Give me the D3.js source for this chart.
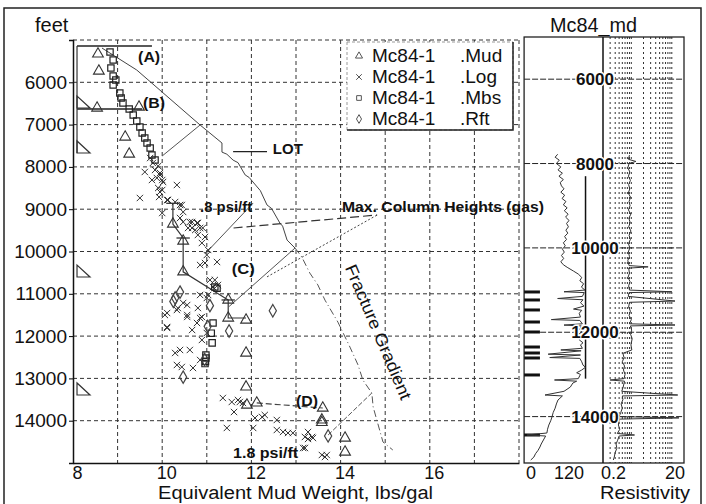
<!DOCTYPE html>
<html>
<head>
<meta charset="utf-8">
<script src="https://cdn.jsdelivr.net/npm/d3@7"></script>
<style>
  body { margin: 0; background: #fff; }
  text { font-family: "Liberation Sans", Arial, sans-serif; fill: #111; }
</style>
</head>
<body>
<script>
'use strict';

// ---- data ----
const xTickLabels = [8, 10, 12, 14, 16];
const xGrid = [9, 10, 11, 12, 13, 14, 15, 16, 17, 18];
const depthTicks = [6000, 7000, 8000, 9000, 10000, 11000, 12000, 13000, 14000];
const depthGrid = [5000, 6000, 7000, 8000, 9000, 10000, 11000, 12000, 13000, 14000];
const trackDepths = [6000, 8000, 10000, 12000, 14000];
const grTickLabels = [0, 120];
const resTickLabels = [0.2, 20];
const resGrid = [0.3, 0.4, 0.5, 0.6, 0.7, 0.8, 0.9, 1, 2, 3, 4, 5, 6, 7, 8, 9, 10];

// [mud weight, depth]
const mudPoints = [[8.56,5330],[8.58,5733],[8.54,6607],[9.48,6584],[9.17,7293],[9.26,7695],
  [10.24,9350],[10.47,9752],[10.47,10480],[11.48,11146],[11.48,11572],[11.88,11620],
  [11.88,12400],[11.88,13200],[11.9,13630],[12.12,13580],[13.6,13700],[13.58,13980],
  [13.58,14040],[14.1,14410],[14.1,14740]];
const logPoints = [[9.61,8120],[9.73,7790],[9.79,7908],[9.84,8073],[9.91,7979],[9.95,8191],
  [10.0,8310],[9.88,8262],[9.77,8310],[9.95,8144],[10.02,8357],[9.91,8499],[10.0,8546],
  [9.93,8711],[9.5,8735],[10.11,8782],[10.29,8830],[10.44,8901],[10.0,9090],[10.4,9208],
  [10.47,9302],[10.67,9302],[10.8,9326],[10.74,9492],[10.91,9444],[10.58,9444],[10.33,8428],
  [9.95,8593],[10.13,8782],[10.4,8901],[10.47,9066],[10.62,9302],[10.78,9326],[10.67,9444],
  [10.85,9444],[10.8,9610],[10.96,9657],[10.89,9799],[11.03,9964],[11.0,10083],[11.23,10248],
  [10.85,10319],[10.96,10272],[11.07,10674],[11.18,10674],[11.25,10792],[11.14,10839],
  [10.85,11028],[11.0,11099],[11.03,11028],[10.47,11217],[10.35,11336],[10.11,11454],
  [10.8,11336],[10.89,11548],[10.56,11548],[10.11,11785],[10.06,11501],[10.11,11808],
  [10.33,11383],[10.56,11265],[10.67,11856],[10.29,12399],[10.4,12328],[10.62,12328],
  [10.33,12683],[10.44,12730],[10.69,12754],[10.85,12565],[10.56,11501],[10.85,11572],
  [10.89,12092],[11.0,11927],[10.78,11690],[11.36,13463],[11.56,13558],[11.7,13510],
  [11.74,13558],[11.81,13581],[11.61,13794],[11.45,14172],[12.04,14172],[12.08,13936],
  [12.24,13912],[12.3,13865],[12.57,13983],[12.57,14220],[12.71,14267],[12.82,14291],
  [12.93,14291],[13.2,14385],[13.27,14267],[13.36,14385],[13.38,14409],[13.16,14645],
  [13.2,14645],[13.58,14811],[13.65,14858],[13.69,14811],[13.27,14432]];
const mbsPoints = [[8.83,5284],[8.9,5473],[8.85,5662],[8.9,5851],[8.96,5946],[8.9,6064],
  [9.05,6253],[9.08,6371],[9.12,6489],[9.26,6631],[9.35,6773],[9.43,6915],[9.5,7057],
  [9.55,7199],[9.61,7317],[9.66,7435],[9.73,7553],[9.77,7719],[9.84,7837],[11.18,10840],
  [11.23,10870],[11.14,11690],[11.12,12160],[11.1,11930],[10.98,12450],[10.98,12520],
  [10.97,12600],[10.96,12650]];
const rftPoints = [[10.4,10960],[10.29,11100],[10.25,11180],[12.48,11400],[11.5,11880],
  [11.07,11280],[10.47,12970],[13.72,14360],[10.95,12550],[11.02,11770]];

// lines on the mud-weight plot
const fracSolid = [[8.65,5190],[9.43,5710],[10.85,7010],[11.34,7435],[11.34,7650],[11.45,7700],
  [11.59,7840],[11.7,7900],[11.86,8190],[11.95,8250],[12.13,8475],[12.2,8560],[12.35,8900],
  [12.45,8980],[12.64,9330],[12.7,9400],[12.8,9730],[12.98,9920]];
const fracDash = [[12.98,9920],[13.13,10130],[13.31,10510],[13.49,10790],[13.65,11150],
  [13.94,11670],[14.21,12260],[14.39,12680],[14.5,13040],[14.7,13345],[14.73,13676],
  [14.95,14503],[15.17,14692]];
const lotLine = [[11.59,7640],[12.35,7640]];
const mudLine = [[10.24,8860],[10.24,9350],[10.47,9681],[10.47,10480],[11.48,11146],
  [11.48,11572],[11.88,11572]];
const mudTicks = [[10.24,8860],[10.47,9681],[11.48,11146]];
const mudLineD = [[12.12,13580],[13.6,13700]];
const columnB = [[10.0,7742],[10.85,7009]];
const columnPsi = [[11.0,10012],[12.04,8853]];
const columnC = [[11.5,11300],[12.98,9917]];
const columnCdot = [[12.35,10600],[14.82,9137]];
const columnDash = [[11.6,9444],[14.82,9137]];
const columnD = [[13.72,14338],[14.7,13345]];
const casingBars = [[8.09,9.77,5142],[8.09,9.55,6631]];
const casingShoes = [6608, 7671, 10603, 13392];

const annotations = [
  { text: '(A)', x: 9.46, d: 5520, w: 22 },
  { text: '(B)', x: 9.57, d: 6608, w: 22 },
  { text: 'LOT', x: 12.48, d: 7695, w: 30 },
  { text: '.8 psi/ft', x: 10.85, d: 9066, w: 52 },
  { text: 'Max. Column Heights (gas)', x: 14.03, d: 9066, w: 202 },
  { text: '(C)', x: 11.56, d: 10532, w: 23 },
  { text: '(D)', x: 13.0, d: 13652, w: 22 },
  { text: '1.8 psi/ft', x: 11.59, d: 14881, w: 65 }
];

const legendNames = ['.Mud', '.Log', '.Mbs', '.Rft'];

// right track: [depth, gamma]
const grCurve = [[7780,100],[7850,92],[7920,105],[8000,96],[8080,110],[8150,101],[8230,115],
  [8300,104],[8380,118],[8450,108],[8530,112],[8600,120],[8680,110],[8750,122],[8830,114],
  [8900,126],[8980,118],[9050,130],[9120,121],[9200,133],[9270,125],[9350,136],[9420,128],
  [9500,134],[9580,126],[9650,132],[9730,122],[9800,128],[9880,118],[9950,124],[10030,115],
  [10100,121],[10180,112],[10250,119],[10330,110],[10400,118],[10460,130],[10550,150],
  [10620,165],[10700,176],[10780,170],[10850,182],[10930,175],[11000,186],[11040,120],
  [11060,184],[11150,178],[11200,100],[11230,180],[11300,172],[11380,183],[11450,150],
  [11480,176],[11550,168],[11640,172],[11700,80],[11720,170],[11800,178],[11830,120],
  [11850,175],[11930,170],[12000,176],[12050,164],[12100,175],[12180,168],[12250,180],
  [12300,172],[12380,178],[12420,110],[12440,174],[12520,70],[12540,172],[12600,75],
  [12620,170],[12700,176],[12780,180],[12830,188],[12900,175],[12960,160],[13000,172],
  [13100,165],[13132,90],[13160,160],[13204,148],[13299,140],[13400,120],[13488,60],
  [13510,115],[13607,101],[13700,96],[13800,92],[13900,86],[14010,82],[14100,78],
  [14200,72],[14300,68],[14389,66],[14436,3],[14460,62],[14555,55],[14650,48],[14721,44],
  [14800,38],[14880,30],[14958,25],[15029,15]];
// [depth, ohm-m]
const resCurve = [[7800,0.9],[7900,0.85],[7950,1.3],[8000,0.88],[8100,0.82],[8200,0.92],
  [8300,0.85],[8400,0.95],[8500,0.86],[8600,0.92],[8700,0.84],[8800,0.96],[8900,0.88],
  [9000,0.93],[9100,0.85],[9200,0.97],[9300,0.87],[9400,0.94],[9500,0.86],[9600,0.98],
  [9700,0.88],[9800,0.95],[9900,0.85],[10000,0.92],[10100,0.84],[10200,0.9],[10300,0.82],
  [10420,0.88],[10450,2.6],[10480,0.86],[10600,0.9],[10700,0.83],[10800,0.93],[10900,0.86],
  [11000,0.9],[11040,10],[11060,0.88],[11150,0.84],[11260,12],[11290,0.9],[11400,0.86],
  [11500,0.95],[11600,0.88],[11700,1.0],[11800,0.9],[11828,12],[11850,0.95],[11950,1.02],
  [12050,0.96],[12150,1.05],[12300,0.98],[12420,1.03],[12500,0.62],[12600,0.66],[12700,0.6],
  [12800,0.68],[12895,0.64],[13000,0.7],[13100,0.66],[13132,0.3],[13160,0.68],[13300,0.63],
  [13400,0.58],[13488,14],[13510,0.6],[13600,0.62],[13700,0.56],[13800,0.6],[13900,0.55],
  [14000,0.5],[14030,15],[14060,0.5],[14200,0.48],[14300,0.52],[14400,0.45],[14436,1.2],
  [14460,0.5],[14560,0.46],[14650,0.42],[14750,0.44],[14850,0.4],[14958,0.38],[15029,0.36]];
const shaleBars = [11045, 11235, 11472, 11757, 11994, 12350, 12492, 12610, 13013, 14436];

(function() {
  const svg = d3.select('body').append('svg')
    .attr('width', 706)
    .attr('height', 504);

  svg.append('rect')
    .attr('x', 4).attr('y', 8).attr('width', 697).attr('height', 500)
    .attr('fill', '#fff').attr('stroke', '#222').attr('stroke-width', 1.5);

  // main plot scales
  const x = d3.scaleLinear().domain([8, 18]).range([73, 519]);
  const y = d3.scaleLinear().domain([5000, 15000]).range([40, 463]);

  // right track scales
  const yR = d3.scaleLinear().domain([5000, 15100]).range([37, 463]);
  const gr = d3.scaleLinear().domain([0, 120]).range([526, 564]);
  const res = d3.scaleLog().domain([0.2, 20]).range([603, 684]);

  drawMainGrid();
  drawMainLines();
  drawMarkers();
  drawLegend();
  drawTrack();
  drawLabels();

  function drawMainGrid() {
    const g = svg.append('g');
    g.selectAll('.vgrid').data(xGrid).enter().append('line')
      .attr('x1', d => x(d)).attr('x2', d => x(d))
      .attr('y1', y(5000)).attr('y2', y(15000))
      .attr('stroke', '#333').attr('stroke-width', 1).attr('stroke-dasharray', '4,3');
    g.selectAll('.hgrid').data(depthGrid).enter().append('line')
      .attr('x1', x(8)).attr('x2', x(18))
      .attr('y1', d => y(d)).attr('y2', d => y(d))
      .attr('stroke', '#333').attr('stroke-width', 1).attr('stroke-dasharray', '4,3');

    let yAxis = d3.axisLeft(y).tickValues(depthTicks).tickFormat(d3.format('d'))
      .tickSize(4).tickPadding(2);
    svg.append('g')
      .attr('transform', 'translate(' + x(8) + ',0)')
      .call(yAxis)
      .call(a => a.select('.domain').attr('stroke', '#111').attr('stroke-width', 1.5))
      .selectAll('text')
        .style('font-size', '19px').attr('fill', '#111');

    let xAxis = d3.axisBottom(x).tickValues(xTickLabels).tickSize(0).tickPadding(3);
    svg.append('g')
      .attr('transform', 'translate(0,' + y(15000) + ')')
      .call(xAxis)
      .call(a => a.select('.domain').attr('stroke', '#111').attr('stroke-width', 1.5))
      .selectAll('text')
        .attr('dx', 4)
        .style('font-size', '18px').attr('fill', '#111');
  }

  function drawMainLines() {
    const line = d3.line().x(d => x(d[0])).y(d => y(d[1]));
    const add = (pts, dash, color, w) => svg.append('path')
      .attr('d', line(pts)).attr('fill', 'none')
      .attr('stroke', color).attr('stroke-width', w)
      .attr('stroke-dasharray', dash);

    add(fracSolid, null, '#444', 1);
    add(fracDash, '7,3,1,3', '#555', 1);
    add(lotLine, null, '#222', 1.3);
    add(mudLine, null, '#333', 1.2);
    add(mudLineD, '6,3', '#444', 1.2);
    add(columnB, null, '#555', 1);
    add(columnPsi, null, '#555', 1);
    add(columnC, null, '#555', 1);
    add(columnCdot, '2,2', '#444', 1);
    add(columnDash, '9,4', '#333', 1.2);
    add(columnD, '5,2', '#555', 1);

    svg.selectAll('.mudtick').data(mudTicks).enter().append('line')
      .attr('x1', d => x(d[0] - 0.15)).attr('x2', d => x(d[0] + 0.15))
      .attr('y1', d => y(d[1])).attr('y2', d => y(d[1]))
      .attr('stroke', '#222').attr('stroke-width', 1.2);

    // casing strings and shoes
    svg.selectAll('.casing').data(casingBars).enter().append('line')
      .attr('x1', d => x(d[0])).attr('x2', d => x(d[1]))
      .attr('y1', d => y(d[2])).attr('y2', d => y(d[2]))
      .attr('stroke', '#222').attr('stroke-width', 1.5);
    svg.append('line')
      .attr('x1', x(8.09)).attr('x2', x(8.09))
      .attr('y1', y(5142)).attr('y2', y(casingShoes[1]))
      .attr('stroke', '#333').attr('stroke-width', 1.2);
    svg.selectAll('.shoe').data(casingShoes).enter().append('path')
      .attr('d', d => {
        let px = x(8.09), py = y(d);
        return 'M' + px + ',' + (py - 12) + 'L' + px + ',' + py + 'L' + (px + 13) + ',' + py + 'Z';
      })
      .attr('fill', 'none').attr('stroke', '#333').attr('stroke-width', 1.2);
  }

  function drawMarkers() {
    const sym = (type, size) => d3.symbol().type(type).size(size)();
    const put = (pts, type, size, color, w) => svg.append('g').selectAll('path')
      .data(pts).enter().append('path')
      .attr('transform', d => 'translate(' + x(d[0]) + ',' + y(d[1]) + ')')
      .attr('d', sym(type, size))
      .attr('fill', 'none').attr('stroke', color).attr('stroke-width', w);

    put(logPoints, d3.symbolTimes, 28, '#333', 1);
    put(mbsPoints, d3.symbolSquare, 40, '#222', 1.2);
    put(rftPoints, d3.symbolDiamond, 45, '#444', 1.2);
    put(mudPoints, d3.symbolTriangle, 50, '#333', 1.1);
  }

  function drawLegend() {
    const g = svg.append('g');
    g.append('rect')
      .attr('x', 347).attr('y', 42).attr('width', 166).attr('height', 88)
      .attr('fill', '#fff').attr('stroke', '#999').attr('stroke-dasharray', '3,2');
    g.append('path')
      .attr('d', 'M513,42V130H347')
      .attr('fill', 'none').attr('stroke', '#222').attr('stroke-width', 1.5);
    const types = [d3.symbolTriangle, d3.symbolTimes, d3.symbolSquare, d3.symbolDiamond];
    legendNames.forEach((name, i) => {
      let by = 62 + i * 21;
      g.append('path')
        .attr('transform', 'translate(359,' + (by - 6) + ')')
        .attr('d', d3.symbol().type(types[i]).size(22)())
        .attr('fill', 'none').attr('stroke', '#555').attr('stroke-width', 1);
      g.append('text').attr('x', 372).attr('y', by)
        .style('font-size', '19px').text('Mc84-1');
      g.append('text').attr('x', 460).attr('y', by)
        .style('font-size', '19px').text(name);
    });
  }

  function drawTrack() {
    const g = svg.append('g');
    const top = yR(5000), bot = yR(15100);

    g.selectAll('.resgrid').data(resGrid).enter().append('line')
      .attr('x1', d => res(d)).attr('x2', d => res(d))
      .attr('y1', top).attr('y2', bot)
      .attr('stroke', '#333').attr('stroke-width', 1).attr('stroke-dasharray', '2,3');

    g.selectAll('.tgrid').data(trackDepths).enter().append('line')
      .attr('x1', gr(-6)).attr('x2', res(20))
      .attr('y1', d => yR(d)).attr('y2', d => yR(d))
      .attr('stroke', '#222').attr('stroke-width', 1).attr('stroke-dasharray', '6,2');

    // frame
    g.append('rect')
      .attr('x', gr(-6)).attr('y', top)
      .attr('width', res(20) - gr(-6)).attr('height', bot - top)
      .attr('fill', 'none').attr('stroke', '#222').attr('stroke-width', 1.3);
    g.append('line')
      .attr('x1', res(0.2)).attr('x2', res(0.2)).attr('y1', top).attr('y2', bot)
      .attr('stroke', '#111').attr('stroke-width', 1.5);
    g.append('line')
      .attr('x1', gr(188)).attr('x2', gr(188)).attr('y1', yR(8300)).attr('y2', yR(13100))
      .attr('stroke', '#111').attr('stroke-width', 1.5);

    g.selectAll('.shale').data(shaleBars).enter().append('line')
      .attr('x1', gr(-6)).attr('x2', gr(44))
      .attr('y1', d => yR(d)).attr('y2', d => yR(d))
      .attr('stroke', '#111').attr('stroke-width', 3);

    g.append('path')
      .attr('d', d3.line().x(d => gr(d[1])).y(d => yR(d[0]))(grCurve))
      .attr('fill', 'none').attr('stroke', '#333').attr('stroke-width', 1);
    g.append('path')
      .attr('d', d3.line().x(d => res(Math.min(d[1], 20))).y(d => yR(d[0]))(resCurve))
      .attr('fill', 'none').attr('stroke', '#333').attr('stroke-width', 1);

    g.selectAll('.dlabel').data(trackDepths).enter().append('text')
      .attr('x', 595).attr('y', d => yR(d) + 6)
      .attr('text-anchor', 'middle')
      .style('font-size', '17px').style('font-weight', 'bold')
      .attr('stroke', '#fff').attr('stroke-width', 3).attr('paint-order', 'stroke')
      .text(d => d);

    g.selectAll('.grlab').data(grTickLabels).enter().append('text')
      .attr('x', d => gr(d) + 5).attr('y', 479)
      .attr('text-anchor', 'middle').style('font-size', '18px')
      .text(d => d);
    g.selectAll('.reslab').data(resTickLabels).enter().append('text')
      .attr('x', d => d < 1 ? res(d) - 2 : res(d) + 1).attr('y', 479)
      .attr('text-anchor', d => d < 1 ? 'start' : 'end').style('font-size', '18px')
      .text(d => d);
  }

  function drawLabels() {
    svg.selectAll('.ann').data(annotations).enter().append('text')
      .attr('x', d => x(d.x)).attr('y', d => y(d.d))
      .attr('textLength', d => d.w).attr('lengthAdjust', 'spacingAndGlyphs')
      .style('font-size', '15px').style('font-weight', 'bold')
      .text(d => d.text);

    svg.append('text')
      .attr('transform', 'translate(' + x(14.84) + ',' + y(11903) + ')rotate(67)')
      .attr('text-anchor', 'middle').attr('dominant-baseline', 'central')
      .attr('textLength', 145).attr('lengthAdjust', 'spacingAndGlyphs')
      .style('font-size', '17px')
      .text('Fracture Gradient');

    svg.append('text').attr('x', 35).attr('y', 32)
      .style('font-size', '20px').text('feet');
    svg.append('text').attr('x', 550).attr('y', 32)
      .attr('textLength', 87).attr('lengthAdjust', 'spacingAndGlyphs')
      .style('font-size', '20px').text('Mc84_md');
    svg.append('text').attr('x', 158).attr('y', 499)
      .attr('textLength', 275).attr('lengthAdjust', 'spacingAndGlyphs')
      .style('font-size', '18px').text('Equivalent Mud Weight, lbs/gal');
    svg.append('text').attr('x', 600).attr('y', 499)
      .attr('textLength', 90).attr('lengthAdjust', 'spacingAndGlyphs')
      .style('font-size', '18px').text('Resistivity');
  }
})();
</script>
</body>
</html>
